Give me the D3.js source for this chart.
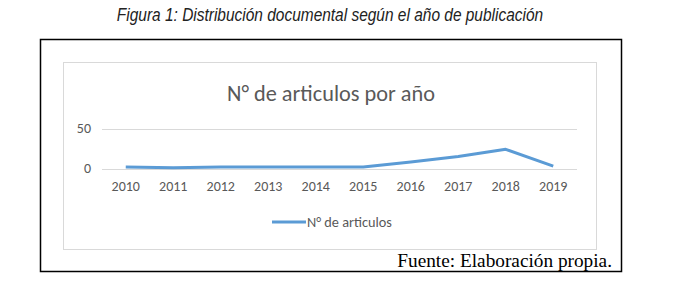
<!DOCTYPE html>
<html>
<head>
<meta charset="utf-8">
<script src="https://cdn.jsdelivr.net/npm/d3@7"></script>
<style>
  body { margin: 0; background: #fff; }
  svg { display: block; }
</style>
</head>
<body>
<div id="chart"></div>
<script>
const years = ["2010", "2011", "2012", "2013", "2014", "2015", "2016", "2017", "2018", "2019"];
const articulos = [2, 1, 2, 2, 2, 2, 8, 15, 24, 3];
const yTicks = [0, 50];
const seriesName = "N° de articulos";

const width = 686, height = 293;
const labelFont = "Carlito, Calibri, 'Open Sans', sans-serif";

const svg = d3.select("#chart").append("svg")
    .attr("width", width)
    .attr("height", height);

// figure caption (condensed italic)
svg.append("text")
    .attr("transform", "translate(330,20.5) scale(0.86,1)")
    .attr("text-anchor", "middle")
    .attr("font-family", "'Liberation Sans', Arial, sans-serif")
    .attr("font-style", "italic")
    .attr("font-size", 18)
    .attr("fill", "#222")
    .text("Figura 1: Distribución documental según el año de publicación");

// outer black frame
svg.append("rect")
    .attr("x", 40.5).attr("y", 39.5)
    .attr("width", 581).attr("height", 232)
    .attr("fill", "none")
    .attr("stroke", "#000")
    .attr("stroke-width", 1.5);

// chart area frame
svg.append("rect")
    .attr("x", 63.5).attr("y", 62.5)
    .attr("width", 533).attr("height", 187)
    .attr("fill", "#fff")
    .attr("stroke", "#d9d9d9")
    .attr("stroke-width", 1);

svg.append("text")
    .attr("x", 331)
    .attr("y", 101)
    .attr("text-anchor", "middle")
    .attr("font-family", labelFont)
    .attr("font-size", 22.3)
    .attr("fill", "#595959")
    .text("N° de articulos por año");

const x = d3.scaleBand()
    .domain(years)
    .range([102, 577]);

const y = d3.scaleLinear()
    .domain([0, 50])
    .range([168.5, 128.5]);

// gridlines
svg.append("g")
    .selectAll("line")
    .data(yTicks)
    .join("line")
    .attr("x1", 102).attr("x2", 577)
    .attr("y1", d => Math.round(y(d)) + 0.5)
    .attr("y2", d => Math.round(y(d)) + 0.5)
    .attr("stroke", "#d9d9d9");

const yAxis = svg.append("g")
    .attr("transform", "translate(91,0)")
    .call(d3.axisLeft(y).tickValues(yTicks).tickSize(0).tickPadding(0));
yAxis.select(".domain").remove();
yAxis.selectAll("text")
    .attr("font-family", labelFont)
    .attr("font-size", 14)
    .attr("fill", "#595959");

const xAxis = svg.append("g")
    .attr("transform", "translate(0,176)")
    .call(d3.axisBottom(x).tickSize(0).tickPadding(5));
xAxis.select(".domain").remove();
xAxis.selectAll("text")
    .attr("font-family", labelFont)
    .attr("font-size", 14)
    .attr("fill", "#595959");

const line = d3.line()
    .x((d, i) => x(years[i]) + x.bandwidth() / 2)
    .y(d => y(d));

svg.append("path")
    .datum(articulos)
    .attr("d", line)
    .attr("fill", "none")
    .attr("stroke", "#5b9bd5")
    .attr("stroke-width", 3)
    .attr("stroke-linejoin", "round");

// legend
svg.append("line")
    .attr("x1", 272).attr("x2", 306)
    .attr("y1", 222).attr("y2", 222)
    .attr("stroke", "#5b9bd5")
    .attr("stroke-width", 3);

svg.append("text")
    .attr("x", 307)
    .attr("y", 227)
    .attr("font-family", labelFont)
    .attr("font-size", 14.3)
    .attr("fill", "#595959")
    .text(seriesName);

// source note
svg.append("text")
    .attr("x", 612)
    .attr("y", 267)
    .attr("text-anchor", "end")
    .attr("font-family", "'Liberation Serif', 'Times New Roman', serif")
    .attr("font-size", 19.3)
    .attr("fill", "#000")
    .text("Fuente: Elaboración propia.");
</script>
</body>
</html>
